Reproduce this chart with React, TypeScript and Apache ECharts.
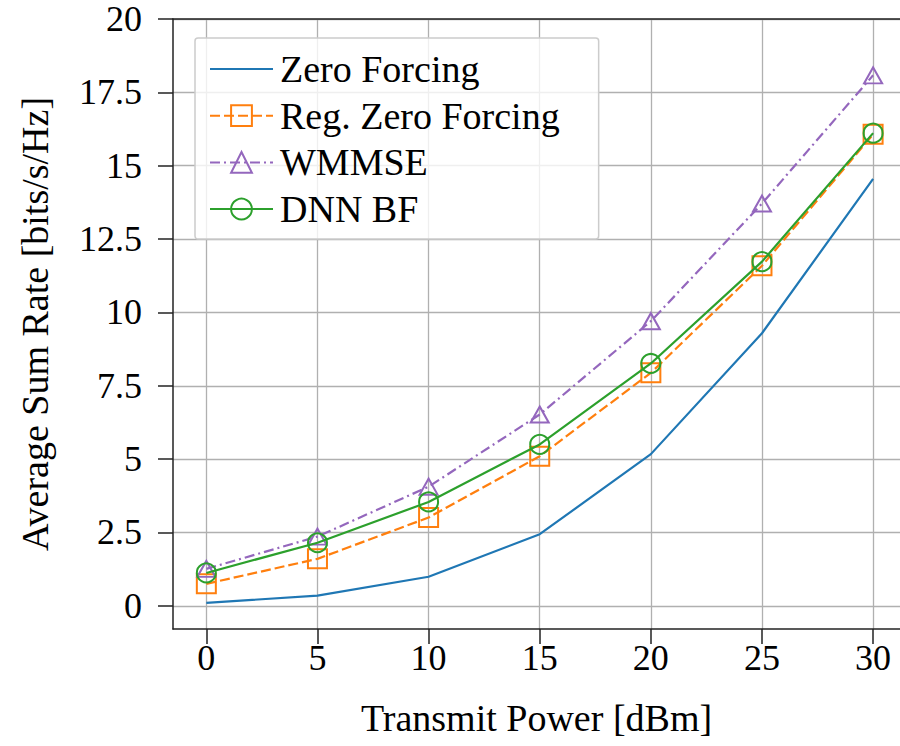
import React, { useEffect, useRef } from "react";
import * as echarts from "echarts";

const xValues = [0, 5, 10, 15, 20, 25, 30];
const zeroForcing = [0.1, 0.35, 0.99, 2.44, 5.17, 9.29, 14.55];
const regZeroForcing = [0.75, 1.6, 3.01, 5.1, 7.94, 11.59, 16.07];
const wmmse = [1.26, 2.36, 4.06, 6.52, 9.7, 13.71, 18.08];
const dnnBf = [1.12, 2.15, 3.54, 5.5, 8.26, 11.73, 16.11];
const xTicks = [0, 5, 10, 15, 20, 25, 30];
const yTicks = [0, 2.5, 5, 7.5, 10, 12.5, 15, 17.5, 20];

const FONT = '"Liberation Serif", "DejaVu Serif", serif';

const pairs = (ys: number[]) => xValues.map((x, i) => [x, ys[i]]);

export default function App() {
  const ref = useRef<HTMLDivElement>(null);
  useEffect(() => {
    if (!ref.current) return;
    const chart = echarts.init(ref.current, undefined, { renderer: "svg" });
    const markerStyle = (c: string) => ({ color: "rgba(255,255,255,0)", borderColor: c, borderWidth: 2 });
    chart.setOption({
      animation: false,
      backgroundColor: "#ffffff",
      textStyle: { fontFamily: FONT },
      grid: { left: 173, top: 19, right: 0, bottom: 117, containLabel: false, outerBoundsMode: "none" },
      legend: {
        left: 195,
        top: 38,
        orient: "vertical",
        padding: [11, 39, 10, 14],
        itemWidth: 63,
        itemHeight: 26,
        itemGap: 6.7,
        backgroundColor: "rgba(255,255,255,0.8)",
        borderColor: "#cccccc",
        borderWidth: 1.5,
        borderRadius: 3,
        textStyle: { fontFamily: FONT, fontSize: 38, color: "#000", lineHeight: 40, padding: [0, 0, 0, 2] },
        data: ["Zero Forcing", "Reg. Zero Forcing", "WMMSE", "DNN BF"],
      },
      xAxis: [
        {
          type: "value",
          min: -1.5,
          max: 31.21,
          name: "Transmit Power [dBm]",
          nameLocation: "middle",
          nameGap: 70,
          nameTextStyle: { fontFamily: FONT, fontSize: 38, color: "#000" },
          axisLine: { show: true, onZero: false, lineStyle: { color: "#222", width: 1.5 } },
          axisTick: { show: true, inside: false, length: 15, customValues: xTicks, lineStyle: { color: "#222", width: 1.5 } },
          axisLabel: { customValues: xTicks, fontFamily: FONT, fontSize: 36, color: "#000", margin: 11 },
          splitLine: { show: true, lineStyle: { color: "#b0b0b0", width: 1.3 } },
        },
        {
          type: "value",
          position: "top",
          min: -1.5,
          max: 31.21,
          axisLine: { show: true, onZero: false, lineStyle: { color: "#222", width: 1.5 } },
          axisTick: { show: false },
          axisLabel: { show: false },
          splitLine: { show: false },
        },
      ],
      yAxis: {
        type: "value",
        min: -0.79,
        max: 20,
        name: "Average Sum Rate [bits/s/Hz]",
        nameLocation: "middle",
        nameGap: 119,
        nameTextStyle: { fontFamily: FONT, fontSize: 38, color: "#000" },
        axisLine: { show: true, onZero: false, lineStyle: { color: "#222", width: 1.5 } },
        axisTick: { show: true, inside: false, length: 15, customValues: yTicks, lineStyle: { color: "#222", width: 1.5 } },
        axisLabel: { customValues: yTicks, fontFamily: FONT, fontSize: 36, color: "#000", margin: 31 },
        splitLine: { show: true, lineStyle: { color: "#b0b0b0", width: 1.3 } },
      },
      series: [
        {
          name: "Zero Forcing",
          type: "line",
          data: pairs(zeroForcing),
          symbol: "circle",
          showSymbol: false,
          symbolSize: 0,
          lineStyle: { color: "#1f77b4", width: 2.2 },
          itemStyle: { color: "rgba(0,0,0,0)", borderWidth: 0 },
          z: 2,
        },
        {
          name: "Reg. Zero Forcing",
          type: "line",
          data: pairs(regZeroForcing),
          symbol: "rect",
          symbolSize: 19,
          showAllSymbol: true,
          lineStyle: { color: "#ff7f0e", width: 2.2, type: [10, 4] },
          itemStyle: markerStyle("#ff7f0e"),
          z: 3,
        },
        {
          name: "WMMSE",
          type: "line",
          data: pairs(wmmse),
          symbol: "triangle",
          symbolSize: [18, 16],
          showAllSymbol: true,
          lineStyle: { color: "#9467bd", width: 2.2, type: [10, 4, 2, 4] },
          itemStyle: markerStyle("#9467bd"),
          z: 4,
        },
        {
          name: "DNN BF",
          type: "line",
          data: pairs(dnnBf),
          symbol: "circle",
          symbolSize: 19,
          showAllSymbol: true,
          lineStyle: { color: "#2ca02c", width: 2.2 },
          itemStyle: markerStyle("#2ca02c"),
          z: 5,
        },
      ],
    });
    return () => chart.dispose();
  }, []);
  return <div ref={ref} style={{ width: 900, height: 746, position: "absolute", left: 0, top: 0 }} />;
}
